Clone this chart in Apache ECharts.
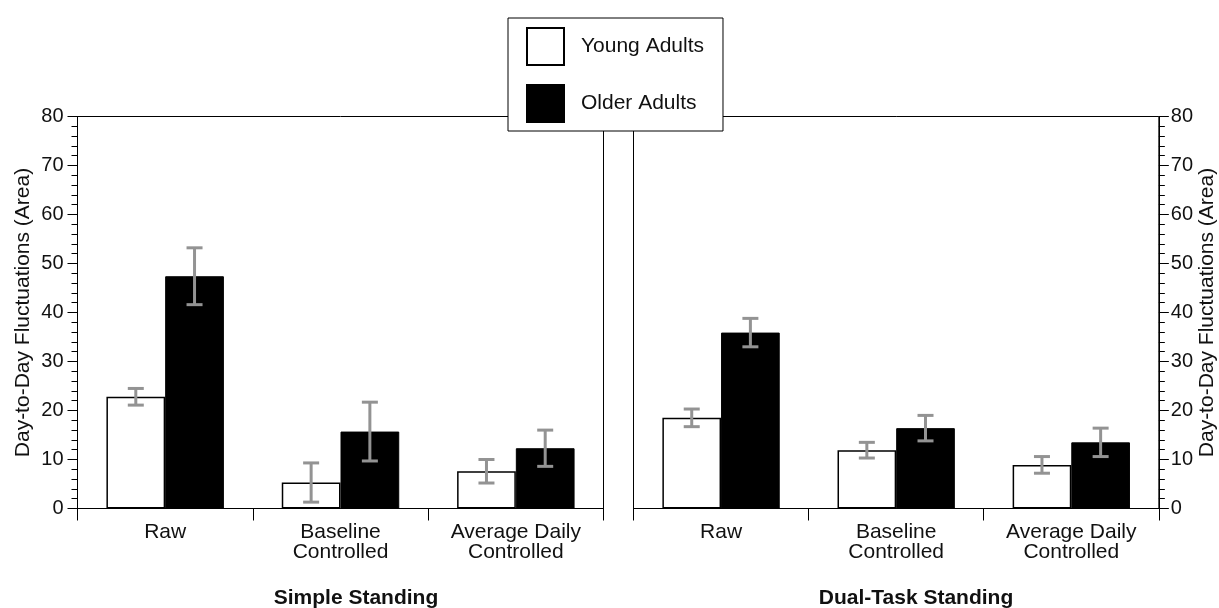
<!DOCTYPE html>
<html>
<head>
<meta charset="utf-8">
<script src="https://cdn.jsdelivr.net/npm/echarts@6/dist/echarts.min.js"></script>
<style>
  html, body { margin: 0; padding: 0; background: #fff; }
  #chart { width: 1219px; height: 608px; }
</style>
</head>
<body>
<div id="chart"></div>
<script>
// Categories shared by both standing conditions
const categories = ['Raw', 'Baseline\nControlled', 'Average Daily\nControlled'];
const seriesNames = ['Young Adults', 'Older Adults'];
const panelTitles = ['Simple Standing', 'Dual-Task Standing'];
const axisName = 'Day-to-Day Fluctuations (Area)';

// Simple standing: means and error half-widths
const simpleYoung = [22.8, 5.3, 7.6];
const simpleYoungErr = [1.7, 4.0, 2.4];
const simpleOlder = [47.4, 15.7, 12.3];
const simpleOlderErr = [5.8, 6.0, 3.7];

// Dual-task standing: means and error half-widths
const dualYoung = [18.5, 11.9, 8.9];
const dualYoungErr = [1.8, 1.6, 1.7];
const dualOlder = [35.9, 16.4, 13.5];
const dualOlderErr = [2.9, 2.6, 2.9];

const FONT = 'Liberation Sans';
const TEXT = '#111';
const ERR = '#939393';
const GAP = 0.33;

function yAxis(gridIndex, position) {
  return {
    type: 'value', gridIndex, position, min: 0, max: 80, interval: 10,
    name: axisName, nameLocation: 'middle', nameRotate: 90,
    nameGap: position === 'left' ? 44 : 37,
    nameTextStyle: { fontFamily: FONT, fontSize: 21, color: TEXT },
    axisLine: { show: true, lineStyle: { color: '#000', width: 1 } },
    axisTick: { show: true, length: 10, lineStyle: { color: '#000' } },
    minorTick: { show: true, splitNumber: 5, length: 6, lineStyle: { color: '#000' } },
    splitLine: { show: false },
    axisLabel: { fontFamily: FONT, fontSize: 20, color: TEXT, margin: position === 'left' ? 14 : 12 }
  };
}

function xAxis(gridIndex) {
  return {
    type: 'category', gridIndex, data: categories,
    axisLine: { show: true, lineStyle: { color: '#000', width: 1 } },
    axisTick: { show: true, length: 12, interval: 0, lineStyle: { color: '#000' } },
    axisLabel: { fontFamily: FONT, fontSize: 21, color: TEXT, margin: 14, lineHeight: 20, interval: 0 }
  };
}

function barSeries(name, values, axisIndex, young) {
  return {
    name, type: 'bar', xAxisIndex: axisIndex, yAxisIndex: axisIndex,
    data: values, barGap: '0%', barCategoryGap: (GAP * 100) + '%',
    itemStyle: young ? { color: '#fff', borderColor: '#000', borderWidth: 1.5 }
                     : { color: '#000', borderColor: '#000', borderWidth: 1 },
    emphasis: { disabled: true }
  };
}

// Error bars centred on the young (left) or older (right) bar of each group
function errorSeries(values, errs, axisIndex, side) {
  return {
    type: 'custom', xAxisIndex: axisIndex, yAxisIndex: axisIndex, z: 5,
    data: values.map((v, i) => [i, v - errs[i], v + errs[i]]),
    renderItem: function (params, api) {
      const band = api.size([1, 0])[0];
      const bw = band * (1 - GAP) / 2;
      const lo = api.coord([api.value(0), api.value(1)]);
      const hi = api.coord([api.value(0), api.value(2)]);
      const x = lo[0] + side * bw / 2;
      const cap = 8;
      const style = { stroke: ERR, lineWidth: 3 };
      return {
        type: 'group',
        children: [
          { type: 'line', shape: { x1: x, y1: lo[1], x2: x, y2: hi[1] }, style },
          { type: 'line', shape: { x1: x - cap, y1: lo[1], x2: x + cap, y2: lo[1] }, style },
          { type: 'line', shape: { x1: x - cap, y1: hi[1], x2: x + cap, y2: hi[1] }, style }
        ]
      };
    }
  };
}

const chart = echarts.init(document.getElementById('chart'), null, { renderer: 'canvas' });
chart.setOption({
  animation: false,
  backgroundColor: '#fff',
  title: [
    { text: panelTitles[0], left: 351, top: 581, textAlign: 'center',
      textStyle: { fontFamily: FONT, fontSize: 21, fontWeight: 'bold', color: TEXT, lineHeight: 24 } },
    { text: panelTitles[1], left: 911, top: 581, textAlign: 'center',
      textStyle: { fontFamily: FONT, fontSize: 21, fontWeight: 'bold', color: TEXT, lineHeight: 24 } }
  ],
  legend: {
    data: seriesNames, orient: 'vertical', left: 508, top: 18,
    itemWidth: 37, itemHeight: 37, itemGap: 18, icon: 'rect',
    padding: [9, 19, 8, 18],
    backgroundColor: '#fff', borderColor: '#000', borderWidth: 1,
    textStyle: { fontFamily: FONT, fontSize: 21, color: TEXT, padding: [0, 0, 0, 12] },
    selectedMode: false, z: 10
  },
  grid: [
    { left: 77.5, right: 615.5, top: 116.5, bottom: 99.5, show: true, borderColor: '#000', borderWidth: 1 },
    { left: 633.5, right: 59.5, top: 116.5, bottom: 99.5, show: true, borderColor: '#000', borderWidth: 1 }
  ],
  xAxis: [xAxis(0), xAxis(1)],
  yAxis: [yAxis(0, 'left'), yAxis(1, 'right')],
  series: [
    barSeries(seriesNames[0], simpleYoung, 0, true),
    barSeries(seriesNames[1], simpleOlder, 0, false),
    barSeries(seriesNames[0], dualYoung, 1, true),
    barSeries(seriesNames[1], dualOlder, 1, false),
    errorSeries(simpleYoung, simpleYoungErr, 0, -1),
    errorSeries(simpleOlder, simpleOlderErr, 0, 1),
    errorSeries(dualYoung, dualYoungErr, 1, -1),
    errorSeries(dualOlder, dualOlderErr, 1, 1)
  ]
});
</script>
</body>
</html>
